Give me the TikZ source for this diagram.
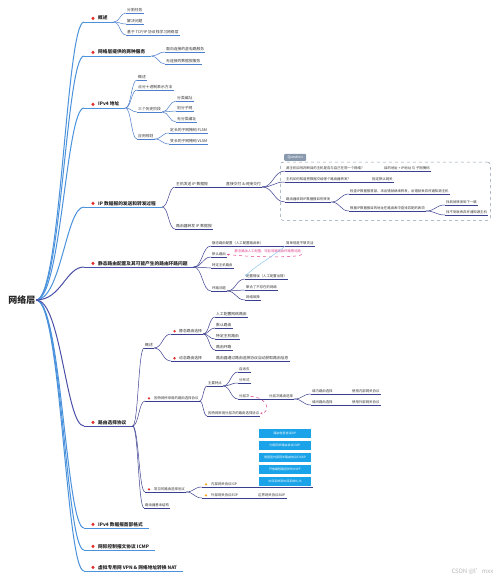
\documentclass[tikz,border=0pt]{standalone}
\usepackage{fontspec}
\setmainfont{Noto Sans CJK SC}
\usetikzlibrary{arrows.meta,calc}
\definecolor{mainblue}{HTML}{4A92DC}
\definecolor{deepblue}{HTML}{4A50A8}
\definecolor{mmnavy}{HTML}{3B3F8F}
\definecolor{subblue}{HTML}{4D7FCC}
\definecolor{dotred}{HTML}{E0312E}
\definecolor{dotorange}{HTML}{F5A623}
\definecolor{boxblue}{HTML}{1AA3E8}
\definecolor{pinkc}{HTML}{E0408A}
\definecolor{qgray}{HTML}{8A9AAE}
\definecolor{relblue}{HTML}{8CC8EE}
\newcommand\lnk[3][mmnavy]{\draw[draw=#1, line width=0.5pt] let \p1=(#2.south east), \p2=(#3.south west) in (\p1) .. controls ({0.5*\x1+0.5*\x2},\y1) and ({0.5*\x1+0.5*\x2},\y2) .. (\p2);}
\begin{document}
\begin{tikzpicture}[x=1pt,y=-1pt,
 rootn/.style={font=\bfseries\fontsize{9}{10}\selectfont, inner sep=0.5pt, text=black!85},
 lvone/.style={font=\bfseries\fontsize{4.7}{5.5}\selectfont, anchor=south west, inner xsep=1pt, inner ysep=1pt, text height=4pt, text depth=0.8pt, text=black!85},
 leaf/.style={font=\fontsize{3.8}{4.5}\selectfont, anchor=south west, inner xsep=1pt, inner ysep=0.7pt, text height=3.2pt, text depth=0.6pt, text=black!80},
 small/.style={leaf, font=\fontsize{3.4}{4}\selectfont, text height=2.9pt, text depth=0.5pt},
 rdot/.style={circle, fill=dotred, inner sep=0pt, minimum size=3.4pt},
 sdot/.style={circle, fill=dotred, inner sep=0pt, minimum size=2.6pt},
 odot/.style={circle, fill=dotorange, inner sep=0pt, minimum size=2.6pt},
 rootc/.style={draw=mainblue, line width=1pt},
 rootd/.style={draw=deepblue, line width=1pt},
 ulmain/.style={draw=mainblue, line width=0.8pt},
 uldeep/.style={draw=deepblue, line width=0.8pt},
 ulsub/.style={draw=subblue, line width=0.5pt},
 ulnavy/.style={draw=mmnavy, line width=0.5pt},
 bbox/.style={fill=boxblue, text=white, font=\fontsize{3}{3.5}\selectfont, minimum width=52pt, minimum height=9pt, inner sep=0pt},
 qbox/.style={draw=qgray, dashed, rounded corners=2.5pt, line width=0.5pt, minimum width=210pt, minimum height=58pt, anchor=north west},
 qtag/.style={fill=qgray, text=white, font=\fontsize{3.6}{4}\selectfont, rounded corners=1pt, inner xsep=2pt, inner ysep=1pt, minimum width=22pt, minimum height=7pt, anchor=south west},
 pinkd/.style={draw=pinkc, dashed, line width=0.5pt},
 pinkt/.style={text=pinkc, font=\fontsize{3.3}{4}\selectfont, inner sep=0.5pt, anchor=south west},
 relb/.style={draw=relblue, line width=0.5pt},
]
\useasboundingbox (0,0) rectangle (500,580);
\fill[white] (0,0) rectangle (500,580);

% root
\node[rootn] (root) at (22,300) {网络层};

% level one
\node[lvone] (b1) at (84,22) {\hspace*{13pt}概述\hspace*{5pt}};
\node[lvone] (b2) at (84,56) {\hspace*{13pt}网络层提供的两种服务\hspace*{5pt}};
\node[lvone] (b3) at (84,108) {\hspace*{13pt}IPv4 地址\hspace*{5pt}};
\node[lvone] (b4) at (84,207) {\hspace*{13pt}IP 数据报的发送和转发过程\hspace*{5pt}};
\node[lvone] (b5) at (84,267) {\hspace*{13pt}静态路由配置及其可能产生的路由环路问题\hspace*{5pt}};
\node[lvone] (b6) at (84,426) {\hspace*{13pt}路由选择协议\hspace*{5pt}};
\node[lvone] (b7) at (84,528) {\hspace*{13pt}IPv4 数据报首部格式\hspace*{5pt}};
\node[lvone] (b8) at (84,550) {\hspace*{13pt}网际控制报文协议 ICMP\hspace*{5pt}};
\node[lvone] (b9) at (84,571) {\hspace*{13pt}虚拟专用网 VPN \& 网络地址转换 NAT\hspace*{5pt}};
\foreach \n in {b1,b2,b3,b4,b5,b6,b7,b8,b9} \node[rdot] (d\n) at ([xshift=9pt]\n.west) {};

\foreach \n in {b1,b2,b3,b4,b7,b8,b9} \draw[rootc] (root.east) .. controls +(25,0) and +(-18,0) .. (\n.south west);
\foreach \n in {b5,b6} \draw[rootd] (root.east) .. controls +(25,0) and +(-18,0) .. (\n.south west);
\foreach \n in {b1,b2,b3,b4,b7,b8,b9} \draw[ulmain] (\n.south west) -- (\n.south east);
\foreach \n in {b5,b6} \draw[uldeep] (\n.south west) -- (\n.south east);

% branch 1
\node[leaf] (b1a) at (126,13) {分割任务};
\node[leaf] (b1b) at (126,24) {解决问题};
\node[leaf] (b1c) at (126,35) {基于 TCP/IP 协议栈学习网络层};
% branch 2
\node[leaf] (b2a) at (165,52) {面向连接的虚电路服务};
\node[leaf] (b2b) at (165,64) {无连接的数据报服务};
% branch 3
\node[leaf] (b3a) at (137,80) {概述};
\node[leaf] (b3b) at (137,90) {点分十进制表示方法};
\node[leaf] (b3c) at (137,112) {三个历史阶段};
\node[leaf] (b3c1) at (176,101) {分类编址};
\node[leaf] (b3c2) at (176,111) {划分子网};
\node[leaf] (b3c3) at (176,122) {无分类编址};
\node[leaf] (b3d) at (137,139) {应用规划};
\node[leaf] (b3d1) at (169,133) {定长的子网掩码 FLSM};
\node[leaf] (b3d2) at (169,144) {变长的子网掩码 VLSM};
\foreach \ua/\ub in {b1/b1a,b1/b1b,b1/b1c,b2/b2a,b2/b2b,b3/b3a,b3/b3b,b3/b3c,b3/b3d,b3c/b3c1,b3c/b3c2,b3c/b3c3,b3d/b3d1,b3d/b3d2} {\lnk[subblue]{\ua}{\ub}}
\foreach \n in {b1a,b1b,b1c,b2a,b2b,b3a,b3b,b3c,b3c1,b3c2,b3c3,b3d,b3d1,b3d2} \draw[ulsub] (\n.south west) -- (\n.south east);

% branch 4
\node[leaf] (b4a) at (175,187) {主机发送 IP 数据报};
\node[leaf] (b4a1) at (225,187) {直接交付 \& 间接交付};
\node[leaf] (b4b) at (175,229) {路由器转发 IP 数据报};
\node[qbox] (qb) at (280,162) {};
\node[qtag] (qt) at (284,161) {Question};
\node[small] (q1) at (285,171) {源主机如何判断目的主机是否与自己在同一个网络?};
\node[small] (q1a) at (383,171) {目的地址 + IP地址 与 子网掩码};
\node[small] (q2) at (285,182) {主机如何知道把数据交给哪个路由器转发?};
\node[small] (q2a) at (371,182) {指定默认网关};
\node[small] (q3) at (285,202) {路由器收到IP数据报如何转发};
\node[small] (q3a) at (349,194) {检查IP数据报首部，未出错就继续转发，出错就丢弃并通知源主机};
\node[small] (q3b) at (349,211) {根据IP数据报目的地址在路由表中查找匹配的表项};
\node[small] (q3b1) at (445,205) {找到就转发到下一跳};
\node[small] (q3b2) at (445,215) {找不到就丢弃并通知源主机};
\foreach \ua/\ub in {b4/b4a,b4/b4b,b4a/b4a1,b4a1/q1,b4a1/q2,b4a1/q3,q1/q1a,q2/q2a,q3/q3a,q3/q3b,q3b/q3b1,q3b/q3b2} {\lnk{\ua}{\ub}}
\foreach \n in {b4a,b4a1,b4b,q1,q1a,q2,q2a,q3,q3a,q3b,q3b1,q3b2} \draw[ulnavy] (\n.south west) -- (\n.south east);

% branch 5
\node[small] (b5a) at (211,246) {静态路由配置（人工配置路由表）};
\node[small] (b5a1) at (285,246) {简单但是不够灵活};
\node[small] (b5b) at (211,257) {默认路由};
\node[small] (b5c) at (211,268) {特定主机路由};
\node[small] (b5d) at (211,291) {环路问题};
\node[small] (b5d1) at (245,279) {配置错误（人工配置出错）};
\node[small] (b5d2) at (245,290) {聚合了不存在的网络};
\node[small] (b5d3) at (245,300) {网络故障};
\foreach \ua/\ub in {b5/b5a,b5/b5b,b5/b5c,b5/b5d,b5a/b5a1,b5d/b5d1,b5d/b5d2,b5d/b5d3} {\lnk{\ua}{\ub}}
\foreach \n in {b5a,b5a1,b5b,b5c,b5d,b5d1,b5d2,b5d3} \draw[ulnavy] (\n.south west) -- (\n.south east);
\node[pinkt] (pt) at (234,254) {静态路由人工配置，可能导致路由环路等问题};
\draw[pinkd,-{Stealth[length=2pt,width=2pt]}] (pt.south east) .. controls +(2,4) and +(25,3) .. (b5b.east);
\draw[relb,-{Stealth[length=2pt,width=2pt]}] (b5a1.south west) .. controls +(-8,8) and +(12,-12) .. (b5d1.west);

% branch 6
\node[leaf] (c1) at (144,348) {概述};
\node[leaf] (c1a) at (171,334) {\hspace*{7pt}静态路由选择};
\node[leaf] (c1a1) at (215,317) {人工配置网络路由};
\node[leaf] (c1a2) at (215,328) {默认路由};
\node[leaf] (c1a3) at (215,339) {特定主机路由};
\node[leaf] (c1a4) at (215,350) {路由环路};
\node[leaf] (c1b) at (171,361) {\hspace*{7pt}动态路由选择};
\node[leaf] (c1b1) at (215,361) {路由器通过路由选择协议自动获取路由信息};
\node[small] (c2) at (145,401) {\hspace*{8pt}因特网所采用的路由选择协议};
\node[small] (c2a) at (207,386) {主要特点};
\node[small] (c2a1) at (238,372) {自适应};
\node[small] (c2a2) at (238,383) {分布式};
\node[small] (c2a3) at (238,399) {分层次};
\node[small] (c2a3a) at (268,399) {分层次路由选择};
\node[small] (c2x1) at (311,394) {域内路由选择};
\node[small] (c2x1a) at (351,394) {使用内部网关协议};
\node[small] (c2x2) at (311,405) {域间路由选择};
\node[small] (c2x2a) at (351,405) {使用外部网关协议};
\node[small] (c2b) at (207,416) {因特网采用分层次的路由选择协议};
\node[small] (c3) at (145,492) {\hspace*{8pt}常见的路由选择协议};
\node[small] (c3a) at (202,487) {\hspace*{8pt}内部网关协议IGP};
\node[small] (c3b) at (202,498) {\hspace*{8pt}外部网关协议EGP};
\node[small] (c3b1) at (257,498) {边界网关协议BGP};
\node[small] (c4) at (144,508) {路由器基本结构};
\coordinate (igpend) at (313,487);
\node[sdot] (e1) at ([xshift=3.5pt]c1a.west) {};
\node[sdot] (e2) at ([xshift=3.5pt]c1b.west) {};
\node[sdot] (e3) at ([xshift=4pt]c2.west) {};
\node[sdot] (e4) at ([xshift=4pt]c3.west) {};
\node[odot] (e5) at ([xshift=4pt]c3a.west) {};
\node[odot] (e6) at ([xshift=4pt]c3b.west) {};
\foreach \ua/\ub in {b6/c1,b6/c2,b6/c3,b6/c4,c1/c1a,c1/c1b,c1a/c1a1,c1a/c1a2,c1a/c1a3,c1a/c1a4,c1b/c1b1,c2/c2a,c2/c2b,c2a/c2a1,c2a/c2a2,c2a/c2a3,c2a3/c2a3a,c2a3a/c2x1,c2a3a/c2x2,c2x1/c2x1a,c2x2/c2x2a,c3/c3a,c3/c3b,c3b/c3b1} {\lnk{\ua}{\ub}}
\foreach \n in {c1,c1a,c1a1,c1a2,c1a3,c1a4,c1b,c1b1,c2,c2a,c2a1,c2a2,c2a3,c2a3a,c2x1,c2x1a,c2x2,c2x2a,c2b,c3,c3a,c3b,c3b1,c4} \draw[ulnavy] (\n.south west) -- (\n.south east);
\draw[ulnavy] (c3a.south east) -- (igpend);
\draw[pinkd,-{Stealth[length=2pt,width=2pt]}] (c2a3.east) .. controls +(18,1) and +(10,-1) .. (c2b.east);

\node[bbox] (r1) at (285,433) {路由信息协议RIP};
\node[bbox] (r2) at (285,445) {内部网关路由协议IGRP};
\node[bbox] (r3) at (285,457) {增强型内部网关路由协议EIGRP};
\node[bbox] (r4) at (285,469) {开放最短路径优先OSPF};
\node[bbox] (r5) at (285,481) {中间系统到中间系统IS-IS};

\node[text=gray!55, font=\fontsize{6}{7}\selectfont, anchor=east] (wm) at (497,571) {CSDN @l'mxx};
\end{tikzpicture}
\end{document}
